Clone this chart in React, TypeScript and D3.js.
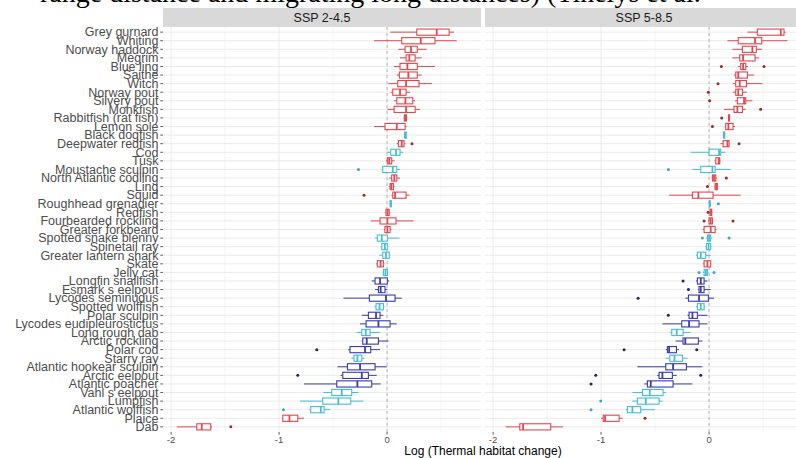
import React from "react";
import * as d3 from "d3";

const species = [
  "Grey gurnard", "Whiting", "Norway haddock", "Megrim", "Blue ling", "Saithe", "Witch",
  "Norway pout", "Silvery pout", "Monkfish", "Rabbitfish (rat fish)", "Lemon sole",
  "Black dogfish", "Deepwater redfish", "Cod", "Tusk", "Moustache sculpin",
  "North Atlantic codling", "Ling", "Squid", "Roughhead grenadier", "Redfish",
  "Fourbearded rockling", "Greater forkbeard", "Spotted snake blenny", "Spinetail ray",
  "Greater lantern shark", "Skate", "Jelly cat", "Longfin snailfish", "Esmark s eelpout",
  "Lycodes seminudus", "Spotted wolffish", "Polar sculpin", "Lycodes eudipleurostictus",
  "Long rough dab", "Arctic rockling", "Polar cod", "Starry ray", "Atlantic hookear sculpin",
  "Arctic eelpout", "Atlantic poacher", "Vahl s eelpout", "Lumpfish", "Atlantic wolffish",
  "Plaice", "Dab",
];

// R = red, C = cyan, B = blue
const speciesGroup = "RRRRRRRRRRRRCRCRCRRRCRRRCCCRCBBBCBBCBBCBBBCCCRR".split("");

const panels = ["SSP 2-4.5", "SSP 5-8.5"];

// [lower whisker, q1, median, q3, upper whisker]
const ssp245Stats: number[][] = [
  [0.03, 0.275, 0.46, 0.575, 0.62],
  [-0.12, 0.136, 0.312, 0.444, 0.645],
  [0.105, 0.167, 0.222, 0.28, 0.367],
  [0.12, 0.176, 0.206, 0.26, 0.32],
  [0.065, 0.12, 0.188, 0.28, 0.444],
  [0.09, 0.114, 0.197, 0.28, 0.32],
  [0.012, 0.099, 0.176, 0.296, 0.414],
  [0.034, 0.053, 0.12, 0.176, 0.213],
  [0.065, 0.09, 0.17, 0.238, 0.26],
  [0.003, 0.065, 0.176, 0.26, 0.306],
  [0.155, 0.16, 0.17, 0.18, 0.185],
  [-0.12, -0.019, 0.09, 0.167, 0.18],
  [0.16, 0.163, 0.17, 0.177, 0.18],
  [0.09, 0.105, 0.136, 0.157, 0.17],
  [-0.003, 0.034, 0.083, 0.12, 0.151],
  [-0.01, 0.003, 0.02, 0.043, 0.07],
  [-0.05, -0.04, 0.053, 0.09, 0.12],
  [0.02, 0.043, 0.067, 0.09, 0.12],
  [0.02, 0.028, 0.04, 0.059, 0.07],
  [0.04, 0.053, 0.074, 0.176, 0.206],
  [0.025, 0.029, 0.034, 0.039, 0.043],
  [-0.02, -0.01, 0.005, 0.02, 0.03],
  [-0.151, -0.065, 0.003, 0.083, 0.244],
  [-0.03, -0.02, 0.003, 0.028, 0.04],
  [-0.111, -0.09, -0.049, 0.003, 0.114],
  [-0.06, -0.049, -0.02, 0.003, 0.01],
  [-0.07, -0.04, -0.01, 0.02, 0.03],
  [-0.1, -0.09, -0.06, -0.034, -0.025],
  [-0.04, -0.034, -0.015, 0.003, 0.01],
  [-0.142, -0.111, -0.065, 0.003, 0.02],
  [-0.111, -0.08, -0.059, -0.019, 0.003],
  [-0.404, -0.164, -0.01, 0.074, 0.136],
  [-0.115, -0.102, -0.07, -0.034, -0.025],
  [-0.234, -0.173, -0.102, -0.065, -0.034],
  [-0.25, -0.194, -0.08, 0.028, 0.09],
  [-0.28, -0.234, -0.197, -0.157, -0.065],
  [-0.234, -0.225, -0.188, -0.08, 0.012],
  [-0.36, -0.343, -0.204, -0.151, -0.065],
  [-0.33, -0.306, -0.275, -0.234, -0.21],
  [-0.46, -0.367, -0.25, -0.111, -0.003],
  [-0.43, -0.41, -0.234, -0.173, -0.096],
  [-0.769, -0.466, -0.275, -0.142, -0.059],
  [-0.59, -0.512, -0.42, -0.327, -0.265],
  [-0.806, -0.596, -0.451, -0.336, -0.219],
  [-0.72, -0.707, -0.614, -0.583, -0.528],
  [-0.97, -0.966, -0.904, -0.827, -0.769],
  [-1.947, -1.762, -1.716, -1.633, -1.62],
];

// [species index, value]
const ssp245Outliers: number[][] = [
  [13, 0.231], [16, -0.265], [19, -0.213], [37, -0.651], [40, -0.827], [44, -0.96], [46, -1.447],
];

const ssp585Stats: number[][] = [
  [0.355, 0.447, 0.664, 0.694, 0.71],
  [0.17, 0.27, 0.426, 0.488, 0.725],
  [0.216, 0.309, 0.401, 0.438, 0.49],
  [0.216, 0.284, 0.315, 0.426, 0.463],
  [0.27, 0.293, 0.315, 0.34, 0.36],
  [0.231, 0.247, 0.27, 0.355, 0.417],
  [0.22, 0.247, 0.284, 0.346, 0.494],
  [0.22, 0.247, 0.27, 0.309, 0.35],
  [0.24, 0.262, 0.324, 0.34, 0.401],
  [0.139, 0.231, 0.262, 0.309, 0.34],
  [0.175, 0.18, 0.185, 0.19, 0.195],
  [0.15, 0.154, 0.179, 0.222, 0.241],
  [0.13, 0.133, 0.139, 0.145, 0.15],
  [0.105, 0.13, 0.17, 0.185, 0.19],
  [-0.17, 0, 0.093, 0.108, 0.154],
  [0.05, 0.062, 0.09, 0.099, 0.105],
  [-0.154, -0.077, 0.031, 0.056, 0.201],
  [0.025, 0.031, 0.046, 0.062, 0.07],
  [0.05, 0.056, 0.065, 0.077, 0.085],
  [-0.37, -0.154, -0.099, 0.037, 0.293],
  [0, 0.003, 0.006, 0.01, 0.015],
  [0.005, 0.01, 0.018, 0.025, 0.03],
  [-0.01, 0, 0.015, 0.031, 0.04],
  [-0.06, -0.046, 0.015, 0.056, 0.07],
  [-0.025, -0.015, 0, 0.015, 0.025],
  [-0.035, -0.025, -0.005, 0.015, 0.02],
  [-0.12, -0.108, -0.077, -0.031, 0.015],
  [-0.055, -0.046, -0.015, 0.015, 0.02],
  [-0.055, -0.046, -0.03, -0.015, -0.005],
  [-0.12, -0.108, -0.077, -0.046, -0.015],
  [-0.1, -0.093, -0.077, -0.046, 0.015],
  [-0.22, -0.191, -0.093, -0.006, 0.046],
  [-0.12, -0.108, -0.077, -0.046, -0.035],
  [-0.2, -0.185, -0.154, -0.108, -0.015],
  [-0.432, -0.253, -0.185, -0.093, -0.015],
  [-0.36, -0.345, -0.3, -0.24, -0.17],
  [-0.31, -0.241, -0.22, -0.099, -0.062],
  [-0.4, -0.386, -0.37, -0.302, -0.28],
  [-0.4, -0.364, -0.32, -0.247, -0.2],
  [-0.664, -0.401, -0.333, -0.21, -0.062],
  [-0.48, -0.463, -0.432, -0.34, -0.3],
  [-0.6, -0.571, -0.54, -0.333, -0.154],
  [-0.71, -0.617, -0.549, -0.426, -0.401],
  [-0.71, -0.664, -0.586, -0.463, -0.432],
  [-0.77, -0.756, -0.71, -0.633, -0.5],
  [-1.0, -0.98, -0.963, -0.833, -0.8],
  [-1.883, -1.753, -1.722, -1.466, -1.352],
];

const ssp585Outliers: number[][] = [
  [4, 0.114], [4, 0.509], [6, 0.083], [7, -0.006], [8, 0.006], [9, 0.478], [10, 0.117],
  [11, 0.031], [13, 0.278], [16, -0.377], [17, 0.16], [18, -0.015], [20, 0.086], [21, -0.009],
  [22, -0.046], [22, 0.222], [24, -0.062], [24, 0.185], [28, -0.093], [28, 0.046],
  [29, -0.241], [30, -0.191], [31, -0.657], [33, -0.377], [37, -0.787], [37, -0.114],
  [40, -1.049], [40, -0.077], [41, -1.093], [43, -1.003], [44, -1.093], [45, -0.593],
];

const majorTicks = [-2, -1, 0];
const minorTicks = [-1.5, -0.5, 0.5];
const topText = "range distance and migrating long distances) (Tinelys et al.";

const groupColor: Record<string, string> = { R: "#E2484E", C: "#45BDD8", B: "#3A3AB2" };
const outlierColor: Record<string, string> = { R: "#A3262B", C: "#3FA6BF", B: "#22226E" };

const FONT = "'Liberation Sans', Arial, Helvetica, sans-serif";

export default function App() {
  const W = 796, H = 458;
  const panelTop = 27, panelBottom = 432;
  const stripTop = 8;
  const panelX = [[163, 481], [485, 803]];
  const domain: [number, number] = [-2.075, 0.87];

  const y = d3.scalePoint<string>().domain(species).range([panelTop, panelBottom]).padding(0.6);
  const step = y.step();
  const boxH = step * 0.72;

  const statsList = [ssp245Stats, ssp585Stats];
  const outList = [ssp245Outliers, ssp585Outliers];

  return (
    <svg width={W} height={H} style={{ position: "absolute", left: 0, top: 0, background: "#fff" }}>
      <text x={40} y={1.5} fontFamily="'Liberation Serif', 'Times New Roman', serif" fontSize={28} fill="#000">
        {topText}
      </text>
      {panels.map((p, pi) => {
        const [x0, x1] = panelX[pi];
        const x = d3.scaleLinear().domain(domain).range([x0, x1]);
        const stats = statsList[pi];
        const outs = outList[pi];
        return (
          <g key={p}>
            <rect x={x0} y={stripTop} width={x1 - x0} height={panelTop - stripTop} fill="#d9d9d9" />
            <text x={(x0 + x1) / 2} y={(stripTop + panelTop) / 2 + 4.3} textAnchor="middle"
              fontFamily={FONT} fontSize={12.5} fill="#1a1a1a">{p}</text>
            <rect x={x0} y={panelTop} width={x1 - x0} height={panelBottom - panelTop} fill="#fff" />
            {minorTicks.map((t) => (
              <line key={"mi" + t} x1={x(t)} x2={x(t)} y1={panelTop} y2={panelBottom} stroke="#f0f0f0" strokeWidth={0.7} />
            ))}
            {species.map((s) => (
              <line key={"h" + s} x1={x0} x2={x1} y1={y(s)} y2={y(s)} stroke="#ebebeb" strokeWidth={1} />
            ))}
            {majorTicks.map((t) => (
              <line key={"ma" + t} x1={x(t)} x2={x(t)} y1={panelTop} y2={panelBottom} stroke="#ebebeb" strokeWidth={1} />
            ))}
            <line x1={x(0)} x2={x(0)} y1={panelTop} y2={panelBottom} stroke="#aaaaaa" strokeWidth={0.8} strokeDasharray="3,3" />
            {stats.map((st, i) => {
              const cy = y(species[i]) as number;
              const c = groupColor[speciesGroup[i]];
              const [lo, q1, md, q3, hi] = st;
              return (
                <g key={"b" + i}>
                  <line x1={x(lo)} x2={x(q1)} y1={cy} y2={cy} stroke={c} strokeWidth={1} />
                  <line x1={x(q3)} x2={x(hi)} y1={cy} y2={cy} stroke={c} strokeWidth={1} />
                  <rect x={x(q1)} y={cy - boxH / 2} width={Math.max(x(q3) - x(q1), 0.8)} height={boxH}
                    fill="#fff" stroke={c} strokeWidth={1.1} />
                  <line x1={x(md)} x2={x(md)} y1={cy - boxH / 2} y2={cy + boxH / 2} stroke={c} strokeWidth={1.8} />
                </g>
              );
            })}
            {outs.map(([i, v], k) => (
              <circle key={"o" + k} cx={x(v)} cy={y(species[i]) as number} r={1.5}
                fill={outlierColor[speciesGroup[i]]} />
            ))}
            {majorTicks.map((t) => (
              <g key={"xt" + t}>
                <line x1={x(t)} x2={x(t)} y1={panelBottom} y2={panelBottom + 2.7} stroke="#333" strokeWidth={0.8} />
                <text x={x(t)} y={panelBottom + 11} textAnchor="middle" fontFamily={FONT} fontSize={9.5} fill="#4d4d4d">
                  {String(t)}
                </text>
              </g>
            ))}
          </g>
        );
      })}
      {species.map((s) => (
        <g key={"yl" + s}>
          <line x1={160.3} x2={163} y1={y(s)} y2={y(s)} stroke="#333" strokeWidth={0.8} />
          <text x={158.5} y={(y(s) as number) + 4.3} textAnchor="end" fontFamily={FONT} fontSize={12.5} fill="#4d4d4d">{s}</text>
        </g>
      ))}
      <text x={(163 + 803) / 2} y={455} textAnchor="middle" fontFamily={FONT} fontSize={12} fill="#000">
        Log (Thermal habitat change)
      </text>
    </svg>
  );
}
